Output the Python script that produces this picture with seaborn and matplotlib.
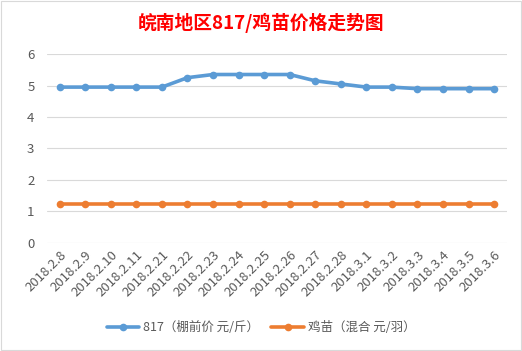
import pandas as pd
import numpy as np
import matplotlib.pyplot as plt
import seaborn as sns

# 数据
dates = ['2018.2.8', '2018.2.9', '2018.2.10', '2018.2.11', '2018.2.21', '2018.2.22',
         '2018.2.23', '2018.2.24', '2018.2.25', '2018.2.26', '2018.2.27', '2018.2.28',
         '2018.3.1', '2018.3.2', '2018.3.3', '2018.3.4', '2018.3.5', '2018.3.6']
price_817 = [4.95, 4.95, 4.95, 4.95, 4.95, 5.25, 5.35, 5.35, 5.35, 5.35,
             5.15, 5.05, 4.95, 4.95, 4.9, 4.9, 4.9, 4.9]
price_chick = [1.25] * 18
names = ['817（棚前价 元/斤）', '鸡苗（混合 元/羽）']

df = pd.DataFrame({
    'date': dates * 2,
    'price': price_817 + price_chick,
    'series': [names[0]] * len(dates) + [names[1]] * len(dates),
})

sns.set_style('white')
plt.rcParams['font.family'] = ['Noto Sans CJK SC', 'DejaVu Sans']

fig = plt.figure(figsize=(5.22, 3.51), dpi=100)
ax = fig.add_axes([0.090, 0.308, 0.881, 0.538])

sns.lineplot(data=df, x='date', y='price', hue='series', sort=False,
             palette=['#5B9BD5', '#ED7D31'], marker='o', markersize=5.5,
             markeredgewidth=0, linewidth=2.6, ax=ax, legend=False)

ax.set_xlim(-0.5, len(dates) - 0.5)
ax.set_ylim(0, 6)
ax.set_yticks(range(0, 7))
ax.yaxis.grid(True, color='#D9D9D9', linewidth=0.8)
ax.set_axisbelow(True)
for s in ax.spines.values():
    s.set_visible(False)
ax.set_xticks(range(len(dates)))
ax.set_xticklabels(dates, rotation=45, ha='right', rotation_mode='anchor')
ax.tick_params(axis='both', colors='#595959', labelsize=9.5, length=0)
ax.tick_params(axis='x', pad=4)
ax.tick_params(axis='y', pad=9)
ax.set_xlabel('')
ax.set_ylabel('')

fig.text(0.5, 0.935, '皖南地区817/鸡苗价格走势图', color='#FF0000',
         fontsize=13.5, fontweight='bold', ha='center', va='center')

handles = [plt.Line2D([], [], color=c, marker='o', markersize=5.5, linewidth=2.6, markeredgewidth=0)
           for c in ['#5B9BD5', '#ED7D31']]
leg = fig.legend(handles, names, loc='center', bbox_to_anchor=(0.5, 0.066), ncol=2,
                 frameon=False, fontsize=9, handlelength=2.6, columnspacing=1.0, handletextpad=0.3)
for t in leg.get_texts():
    t.set_color('#595959')

fig.patches.append(plt.Rectangle((0.002, 0.002), 0.996, 0.996, transform=fig.transFigure,
                                 fill=False, edgecolor='#D9D9D9', linewidth=0.8))

fig.savefig('out.png', dpi=100)
